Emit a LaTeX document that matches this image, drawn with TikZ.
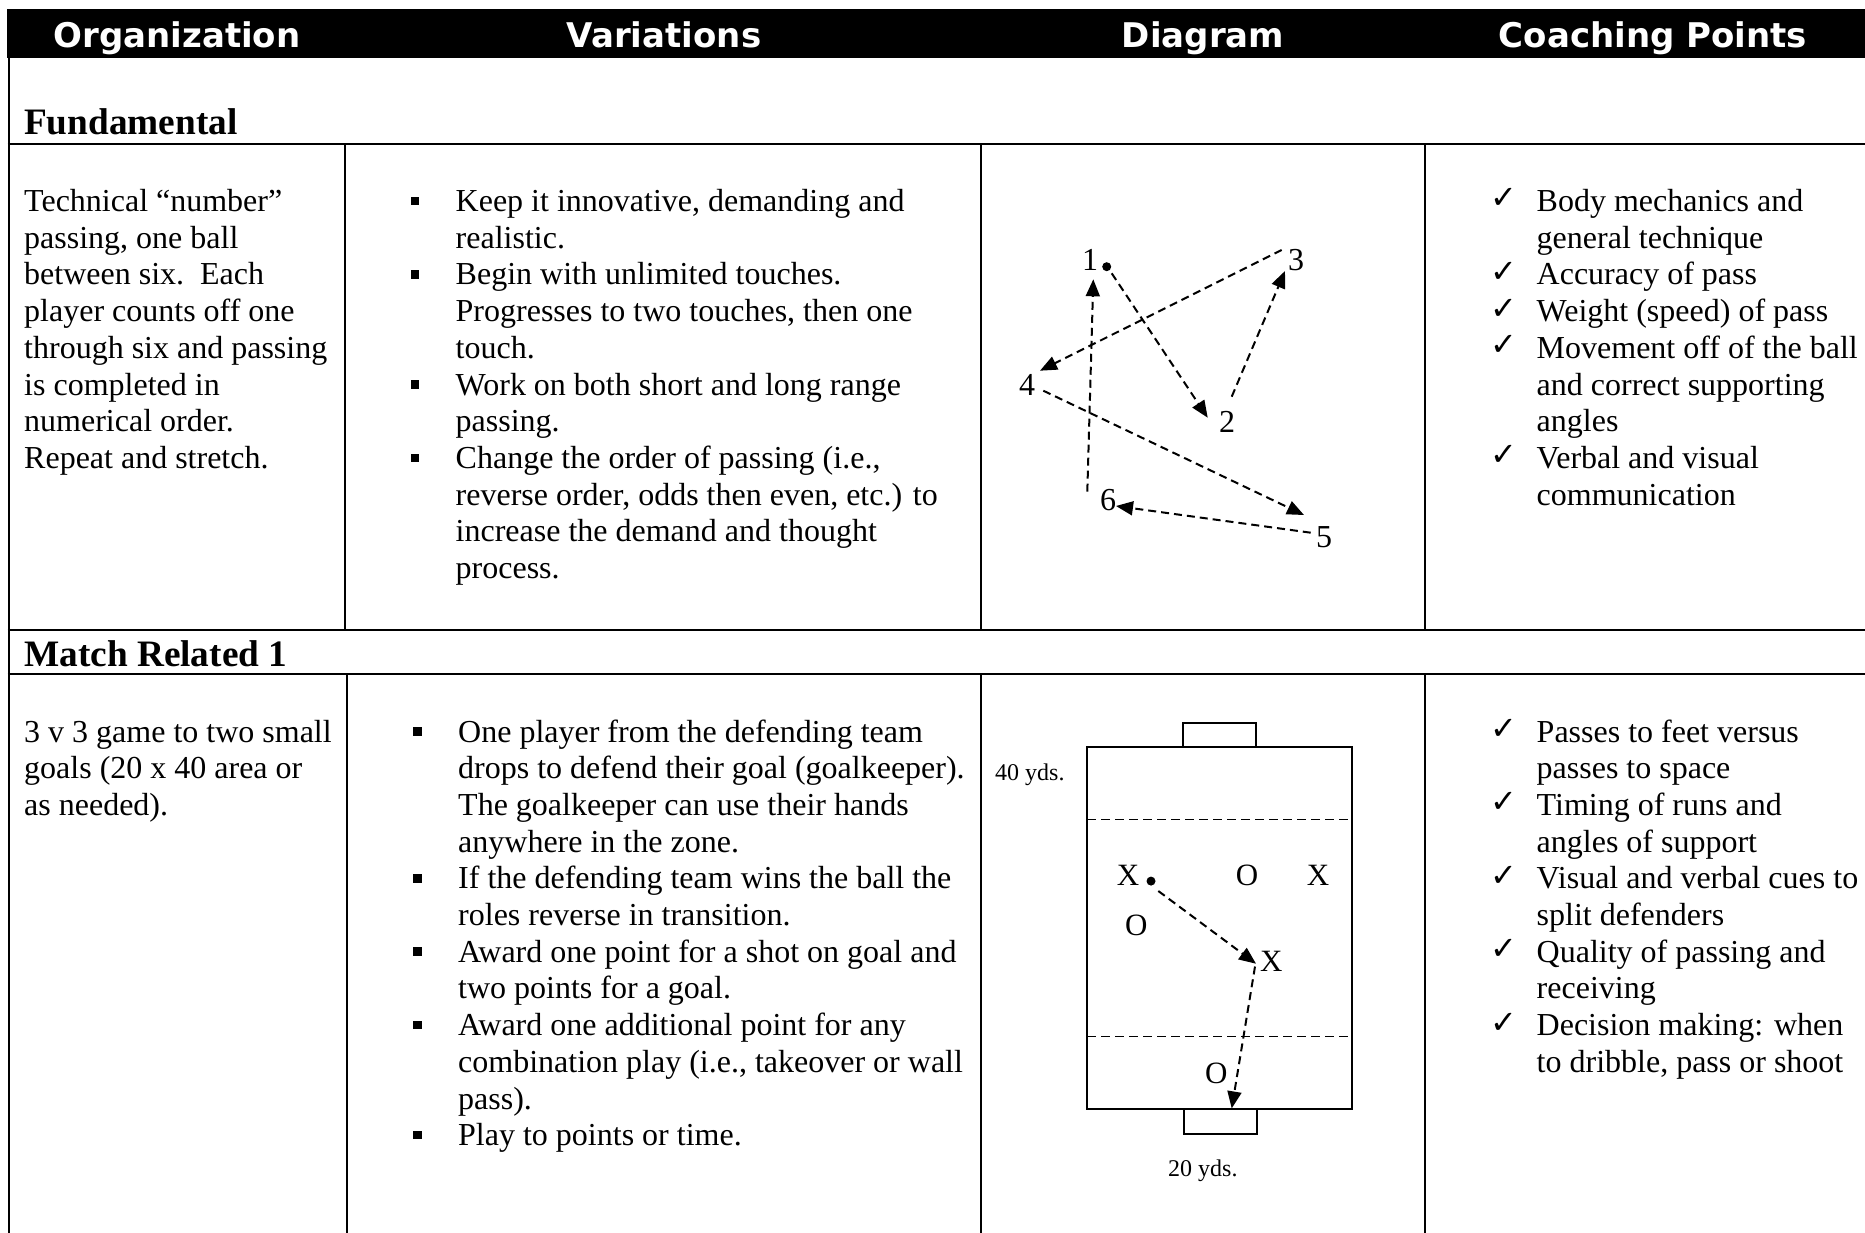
\documentclass[tikz,border=0pt]{standalone}
\usepackage{fontspec}
\setmainfont{Liberation Serif}
\newfontfamily\hdrfont{DejaVu Sans}
\newfontfamily\symfont{DejaVu Sans}
\usetikzlibrary{arrows.meta}
\newcommand\bodyfs{\fontsize{32}{36.7}\selectfont}
\newcommand\headfs{\fontsize{37.3}{42}\selectfont\bfseries}
\newcommand\colfs{\hdrfont\bfseries\fontsize{34}{40}\selectfont}
\newcommand\plfs{\fontsize{31}{36}\selectfont}
\newcommand\ydsfs{\fontsize{24}{28}\selectfont}
\begin{document}
\begin{tikzpicture}[x=1pt,y=-1pt,
  tbl/.style={line width=2.6pt},
  hdr/.style={anchor=base,inner sep=0,text=white,font=\colfs},
  head/.style={anchor=base west,inner sep=0,font=\headfs},
  txt/.style={anchor=base west,inner sep=0,font=\bodyfs},
  bul/.style={rectangle,fill=black,minimum size=8.5pt,inner sep=0},
  chk/.style={anchor=base west,inner sep=0,font=\symfont\fontsize{32}{36}\selectfont},
  num/.style={anchor=base west,inner sep=0,font=\bodyfs},
  pl/.style={anchor=base west,inner sep=0,font=\plfs},
  yds/.style={anchor=base west,inner sep=0,font=\ydsfs},
  ball/.style={circle,fill=black,minimum size=9pt,inner sep=0},
  pass/.style={line width=2pt,dash pattern=on 8pt off 5pt,-{Triangle[length=17pt,width=14pt]}},
  fld/.style={line width=2pt},
  zone/.style={line width=1.8pt,dash pattern=on 9pt off 5pt}]
\useasboundingbox (0,0) rectangle (1865,1233);
\fill[white] (0,0) rectangle (1865,1233);

% header bar
\fill[black] (7,9) rectangle (1865,58);
\node[hdr] (hOrg) at (177,48) {Organization};
\node[hdr] (hVar) at (664,48) {Variations};
\node[hdr] (hDia) at (1203,48) {Diagram};
\node[hdr] (hCP) at (1653,48) {Coaching Points};

% table rules
\draw[tbl] (9,58) -- (9,1233);
\draw[tbl] (7.7,144) -- (1865,144);
\draw[tbl] (7.7,630) -- (1865,630);
\draw[tbl] (7.7,674) -- (1865,674);
\draw[tbl] (345,144) -- (345,630);
\draw[tbl] (981,144) -- (981,630);
\draw[tbl] (1425,144) -- (1425,630);
\draw[tbl] (347,674) -- (347,1233);
\draw[tbl] (981,674) -- (981,1233);
\draw[tbl] (1425,674) -- (1425,1233);

% section headings
\node[head] (fund) at (24,135) {Fundamental};
\node[head] (mr1) at (24,666) {Match Related 1};

% ---- row 1 ----
\foreach \t [count=\i from 0] in {{Technical “number”},{passing, one ball},{between six.\ \ Each},{player counts off one},{through six and passing},{is completed in},{numerical order.},{Repeat and stretch.}}
  \node[txt] (orgA\i) at (24,{211.5+36.7*\i}) {\t};

\foreach \t [count=\i from 0] in {{Keep it innovative, demanding and},{realistic.},{Begin with unlimited touches.},{Progresses to two touches, then one},{touch.},{Work on both short and long range},{passing.},{Change the order of passing (i.e.,},{reverse order, odds then even, etc.) to},{increase the demand and thought},{process.}}
  \node[txt] (varA\i) at (455.5,{211.5+36.7*\i}) {\t};
\foreach \i in {0,2,5,7}
  \node[bul] (bulA\i) at (415,{201+36.7*\i}) {};

\foreach \t [count=\i from 0] in {{Body mechanics and},{general technique},{Accuracy of pass},{Weight (speed) of pass},{Movement off of the ball},{and correct supporting},{angles},{Verbal and visual},{communication}}
  \node[txt] (cpA\i) at (1536.5,{211.5+36.7*\i}) {\t};
\foreach \i in {0,2,3,4,7}
  \node[chk] (chkA\i) at (1490,{209+36.7*\i}) {✓};

% diagram 1
\node[num] (n1) at (1082,271) {1};
\node[num] (n2) at (1219,432) {2};
\node[num] (n3) at (1288,271) {3};
\node[num] (n4) at (1019,395.5) {4};
\node[num] (n5) at (1316,547.5) {5};
\node[num] (n6) at (1100,510.5) {6};
\node[ball] (ballA) at (1106.7,266.7) {};
\coordinate (p12s) at (1111.7,273.3); \coordinate (p12e) at (1207.7,417.7);
\coordinate (p23s) at (1231.7,396.7); \coordinate (p23e) at (1285,271);
\coordinate (p34s) at (1281.7,250);   \coordinate (p34e) at (1040,370.7);
\coordinate (p45s) at (1043.3,390.7); \coordinate (p45e) at (1304,515);
\coordinate (p56s) at (1310.7,532.7); \coordinate (p56e) at (1116,506);
\coordinate (p61s) at (1087.3,491.7); \coordinate (p61e) at (1093.3,279.3);
\draw[pass] (p12s) -- (p12e);
\draw[pass] (p23s) -- (p23e);
\draw[pass] (p34s) -- (p34e);
\draw[pass] (p45s) -- (p45e);
\draw[pass] (p56s) -- (p56e);
\draw[pass] (p61s) -- (p61e);

% ---- row 2 ----
\foreach \t [count=\i from 0] in {{3 v 3 game to two small},{goals (20 x 40 area or},{as needed).}}
  \node[txt] (orgB\i) at (24,{742+36.7*\i}) {\t};

\foreach \t [count=\i from 0] in {{One player from the defending team},{drops to defend their goal (goalkeeper).},{The goalkeeper can use their hands},{anywhere in the zone.},{If the defending team wins the ball the},{roles reverse in transition.},{Award one point for a shot on goal and},{two points for a goal.},{Award one additional point for any},{combination play (i.e., takeover or wall},{pass).},{Play to points or time.}}
  \node[txt] (varB\i) at (458,{742+36.7*\i}) {\t};
\foreach \i in {0,4,6,8,11}
  \node[bul] (bulB\i) at (417.5,{731.5+36.7*\i}) {};

\foreach \t [count=\i from 0] in {{Passes to feet versus},{passes to space},{Timing of runs and},{angles of support},{Visual and verbal cues to},{split defenders},{Quality of passing and},{receiving},{Decision making: when},{to dribble, pass or shoot}}
  \node[txt] (cpB\i) at (1536.5,{742+36.7*\i}) {\t};
\foreach \i in {0,2,4,6,8}
  \node[chk] (chkB\i) at (1490,{739.5+36.7*\i}) {✓};

% diagram 2
\draw[fld] (1087.3,746.7) rectangle (1351.7,1109.1);
\draw[fld] (1183.3,723.3) rectangle (1256,746.7);
\draw[fld] (1184,1109.1) rectangle (1256.7,1133.9);
\draw[zone] (1087.3,819.4) -- (1348,819.4);
\draw[zone] (1087.3,1036.4) -- (1348,1036.4);
\node[yds] (y40) at (995,780.4) {40 yds.};
\node[yds] (y20) at (1168,1176.5) {20 yds.};
\node[pl] (xA) at (1116.7,885) {X};
\node[ball] (ballB) at (1151,881.1) {};
\node[pl] (oA) at (1235.7,885) {O};
\node[pl] (xB) at (1306.7,885) {X};
\node[pl] (oB) at (1125,935.3) {O};
\node[pl] (xC) at (1260,971.5) {X};
\node[pl] (oC) at (1205,1083.5) {O};
\coordinate (q1s) at (1158.3,891); \coordinate (q1e) at (1256,963.7);
\coordinate (q2s) at (1255,966.5); \coordinate (q2e) at (1231.7,1108.4);
\draw[pass] (q1s) -- (q1e);
\draw[pass] (q2s) -- (q2e);
\end{tikzpicture}
\end{document}
